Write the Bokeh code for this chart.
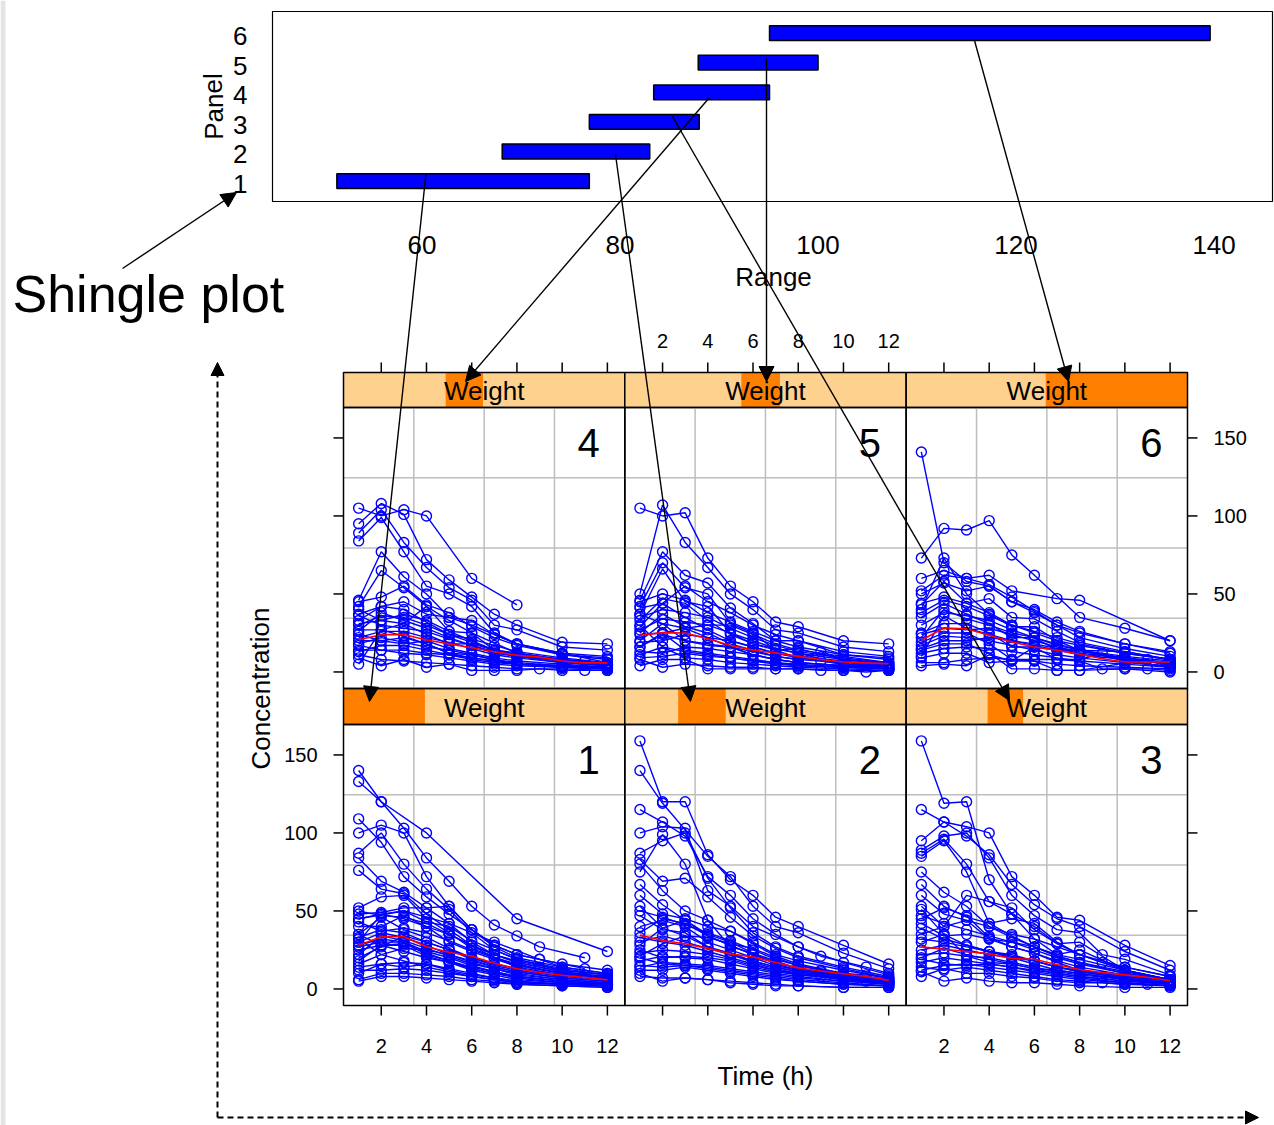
from bokeh.plotting import figure
from bokeh.models import Range1d, Arrow, NormalHead
from bokeh.embed import file_html
from bokeh.resources import INLINE
from bokeh.core.properties import value

# ---------------- data ----------------
PANELS = [1, 2, 3, 4, 5, 6]
SHINGLE_LO = [51.4, 68.1, 76.9, 83.4, 87.9, 95.1]
SHINGLE_HI = [76.9, 83.0, 88.0, 95.1, 100.0, 139.6]
WEIGHT_RANGE = [51.4, 139.5]
RANGE_TICKS = [60, 80, 100, 120, 140]
TIME_TICKS = [2, 4, 6, 8, 10, 12]
CONC_TICKS = [0, 50, 100, 150]
STRIP_LABEL = "Weight"
SMOOTH_TIMES = [1, 2, 3, 4, 5, 6, 7, 8, 9, 10, 11, 12]

P1_CURVES = [
    [(1,140),(2,120),(4,100),(8,45),(12,24)],
    [(1,133),(2,120),(3,103),(4,84),(5,69),(6,53),(7,41),(8,34),(9,27),(11,20)],
    [(1,109),(2,94),(3,72),(4,59),(5,48),(6,38),(7,28),(8,22),(10,16),(12,12)],
    [(1,100),(2,105),(3,100),(4,72),(5,53),(6,38),(7,27),(8,20),(10,14),(12,10)],
    [(1,87),(2,100),(3,80),(4,64),(5,51),(6,36),(7,25),(8,19),(10,13),(12,9)],
    [(1,84),(2,69),(3,62),(4,52),(5,42),(6,30),(7,22),(8,17),(10,11),(12,8)],
    [(1,76),(2,64),(3,61),(4,48),(5,38),(6,28),(7,20),(8,14),(10,9),(12,6)],
    [(1,52),(2,59),(3,60),(4,45),(5,36),(6,26),(8,15),(10,10),(12,7)],
    [(1,48),(2,49),(3,52),(4,52),(5,53),(6,38),(7,28),(8,22),(9,19),(10,14),(12,10)],
    [(1,45),(2,48),(3,50),(4,43),(5,40),(6,31),(7,25),(8,19),(10,12),(12,9)],
    [(1,40),(2,40),(3,47),(4,40),(5,30),(6,24),(7,19),(8,15),(10,10),(12,7)],
    [(1,35),(2,46),(3,38),(4,33),(5,26),(6,20),(7,15),(8,12),(10,8),(12,6)],
    [(1,33),(2,38),(3,36),(4,30),(5,25),(6,19),(7,14),(8,11),(10,7),(12,5)],
    [(1,30),(2,36),(3,33),(4,28),(5,22),(6,17),(7,13),(8,9),(10,6),(12,4)],
    [(1,27),(2,30),(3,30),(4,24),(5,20),(6,15),(7,11),(8,8),(10,5),(12,3)],
    [(1,25),(2,28),(3,29),(4,23),(5,18),(6,13),(7,10),(8,7),(10,4),(12,3)],
    [(1,22),(2,34),(3,31),(4,26),(5,21),(6,16),(8,10),(10,6),(12,4)],
    [(1,18),(2,28),(3,28),(4,21),(5,17),(6,12),(7,9),(8,6),(10,4),(12,2)],
    [(1,14),(2,16),(3,17),(4,16),(5,13),(6,10),(7,7),(8,5),(10,3),(12,2)],
    [(1,12),(2,12),(3,13),(4,12),(5,10),(6,8),(7,6),(8,4),(10,3),(12,2)],
    [(1,6),(2,10),(3,10),(4,9),(5,8),(6,6),(7,5),(8,3),(10,2),(12,1)],
    [(1,5),(2,8),(3,8),(4,7),(5,6),(6,5),(7,4),(8,3),(10,2),(12,1)],
    [(1,30),(2,48),(3,45),(4,40),(5,35),(6,28),(7,22),(8,17),(9,14),(10,11),(11,9),(12,7)],
    [(1,45),(3,50),(5,42),(7,30),(9,19),(11,13)],
    [(1,20),(2,27),(3,34),(4,30),(5,25),(6,20),(7,16),(8,13),(10,9),(12,6)],
    [(1,32),(2,22),(3,18),(4,14),(5,11),(6,8),(7,6),(8,4),(12,2)],
    [(1,50),(2,47),(3,46),(4,42),(5,35),(6,28),(7,22),(8,18),(10,12),(12,9)],
    [(1,43),(2,37),(3,39),(4,36),(5,31),(6,25),(7,20),(8,16),(9,13),(10,10),(12,7)],
    [(1,28),(2,32),(3,30),(4,22),(5,18),(6,14),(7,11),(8,8),(10,5),(12,3)],
    [(1,16),(2,22),(3,26),(4,25),(5,22),(6,18),(7,14),(8,11),(10,7),(12,5)],
    [(1,35),(2,28),(3,24),(4,20),(5,17),(6,13),(7,10),(8,8),(10,5),(12,3)],
    [(1,10),(2,16),(3,14),(4,16),(5,12),(6,9),(7,7),(8,5),(10,3),(12,2)],
]
P2_CURVES = [
    [(1,159),(2,120),(3,120),(4,86),(5,70),(6,60),(7,46),(8,40),(10,28),(12,16)],
    [(1,140),(2,119),(4,85),(5,72),(6,53),(7,40),(8,36),(10,23),(12,13)],
    [(1,115),(2,107),(3,98),(4,72),(5,60),(6,45),(7,35),(8,27),(9,21),(11,14),(12,10)],
    [(1,100),(2,104),(3,103),(4,63),(5,53),(6,40),(8,27),(10,17),(12,9)],
    [(1,87),(2,95),(3,100),(4,71),(5,52),(6,36),(7,27),(8,21),(10,14),(12,8)],
    [(1,83),(2,69),(3,71),(4,59),(5,46),(6,34),(7,26),(8,20),(10,13),(12,7)],
    [(1,80),(2,63),(3,50),(4,44),(5,37),(6,29),(7,21),(8,16),(10,10),(12,6)],
    [(1,75),(2,99),(3,80),(4,44),(5,27),(6,23),(7,16),(8,12),(10,8),(12,5)],
    [(1,67),(2,54),(3,44),(4,34),(5,28),(6,22),(7,17),(8,13),(9,11),(10,9),(12,6)],
    [(1,60),(2,48),(3,45),(4,40),(5,37),(6,30),(7,22),(8,18),(10,12),(12,7)],
    [(1,53),(2,39),(3,34),(4,33),(5,29),(6,26),(7,20),(8,15),(9,12),(10,10),(11,9),(12,7)],
    [(1,47),(2,38),(3,36),(4,27),(5,22),(6,17),(7,13),(8,10),(10,7),(12,4)],
    [(1,28),(2,39),(3,44),(4,35),(5,30),(6,23),(7,18),(8,13),(10,9),(12,5)],
    [(1,21),(2,29),(3,34),(4,27),(5,23),(6,18),(7,14),(8,11),(10,7),(12,4)],
    [(1,18),(2,21),(3,20),(4,19),(5,16),(6,13),(7,10),(8,8),(10,5),(12,3)],
    [(1,15),(2,14),(3,15),(4,14),(5,12),(6,10),(7,8),(8,6),(10,4),(12,2)],
    [(1,12),(2,12),(3,14),(4,12),(5,10),(6,8),(7,6),(8,5),(10,3),(12,2)],
    [(1,8),(2,7),(3,7),(4,6),(5,5),(6,4),(7,3),(8,2),(10,1),(12,1)],
    [(1,10),(2,5),(3,7),(4,6),(5,4),(6,3),(7,2),(8,2),(10,1),(12,1)],
    [(1,33),(2,30),(3,28),(4,24),(5,20),(6,16),(7,12),(8,10),(10,6),(12,4)],
    [(1,25),(2,20),(3,21),(4,20),(5,18),(6,14),(7,11),(8,9),(9,8),(10,6),(11,5),(12,4)],
    [(1,40),(2,44),(3,40),(4,30),(5,25),(6,20),(7,15),(8,12),(10,8),(12,5)],
    [(1,20),(2,16),(3,15),(4,13),(5,11),(6,9),(7,7),(8,5),(10,3),(12,2)],
    [(1,30),(2,34),(3,30),(4,26),(5,22),(6,18),(7,14),(8,11),(10,7),(12,4)],
    [(1,23),(2,25),(3,24),(4,22),(5,19),(6,15),(7,12),(8,9),(10,6),(12,3)],
    [(1,14),(2,17),(3,16),(4,15),(5,13),(6,11),(7,9),(8,7),(10,5),(12,3)],
    [(1,50),(2,46),(3,41),(4,36),(5,31),(6,25),(7,19),(8,15),(10,10),(12,6)],
    [(1,36),(2,45),(3,42),(4,34),(5,28),(6,22),(7,17),(8,13),(10,8),(12,5)],
]
P3_CURVES = [
    [(1,159),(2,119),(3,120),(4,70),(5,48),(6,32),(8,22),(10,12),(12,6)],
    [(1,115),(2,107),(3,104),(4,100),(5,72),(6,60),(7,46),(8,44),(10,28),(12,15)],
    [(1,95),(2,107),(3,98),(4,86),(5,67),(6,54),(7,45),(8,40),(10,24),(12,12)],
    [(1,89),(2,98),(3,100),(4,84),(5,60),(6,47),(7,38),(8,36),(9,22),(10,19),(12,9)],
    [(1,87),(2,96),(3,80),(4,56),(5,48),(6,40),(7,29),(8,30),(10,12),(12,6)],
    [(1,85),(2,95),(3,75),(4,42),(5,34),(6,27),(7,22),(8,25),(10,12),(12,6)],
    [(1,75),(2,62),(3,53),(4,40),(5,35),(6,32),(7,22),(8,19),(10,12),(12,6)],
    [(1,67),(2,53),(3,46),(4,42),(5,45),(6,42),(7,30),(8,22),(9,17),(10,14),(12,8)],
    [(1,60),(2,48),(3,44),(4,32),(5,27),(6,23),(7,18),(8,14),(10,9),(12,5)],
    [(1,53),(2,40),(3,60),(4,56),(5,52),(6,38),(7,29),(8,22),(10,14),(12,8)],
    [(1,51),(2,35),(3,28),(4,24),(5,22),(6,18),(7,14),(8,11),(10,7),(12,4)],
    [(1,45),(2,52),(3,47),(4,33),(5,27),(6,23),(7,17),(8,12),(10,8),(12,5)],
    [(1,42),(2,34),(3,35),(4,32),(5,30),(6,27),(7,21),(8,17),(10,10),(12,6)],
    [(1,39),(2,32),(3,28),(4,24),(5,20),(6,16),(7,12),(8,10),(9,8),(10,7),(11,5),(12,4)],
    [(1,35),(2,40),(3,44),(4,40),(5,33),(6,27),(7,21),(8,17),(10,11),(12,6)],
    [(1,22),(2,23),(3,21),(4,20),(5,17),(6,14),(7,11),(8,9),(10,6),(12,3)],
    [(1,19),(2,16),(3,15),(4,16),(5,14),(6,12),(7,10),(8,8),(10,5),(12,3)],
    [(1,14),(2,12),(3,14),(4,12),(5,10),(6,8),(7,6),(8,5),(10,3),(12,2)],
    [(1,11),(2,5),(3,7),(4,5),(5,4),(6,4),(7,3),(8,2),(10,1),(12,1)],
    [(1,8),(2,13),(3,10),(4,10),(5,8),(6,7),(7,5),(8,4),(9,4),(10,3),(11,3),(12,2)],
    [(1,30),(2,35),(3,21),(4,17),(5,16),(6,13),(7,12),(8,10),(10,6),(12,4)],
    [(1,25),(2,28),(3,25),(4,22),(5,20),(6,18),(7,14),(8,12),(10,8),(12,5)],
    [(1,47),(2,42),(3,38),(4,34),(5,30),(6,25),(7,20),(8,16),(10,10),(12,6)],
    [(1,32),(2,30),(3,27),(4,24),(5,21),(6,18),(7,14),(8,11),(10,7),(12,4)],
    [(1,17),(2,20),(3,18),(4,16),(5,14),(6,11),(7,9),(8,7),(10,4),(12,2)],
    [(1,20),(2,26),(3,22),(4,19),(5,16),(6,13),(7,10),(8,8),(10,5),(12,3)],
    [(1,12),(2,15),(3,16),(4,14),(5,12),(6,10),(7,8),(8,6),(10,4),(12,2)],
]
P4_CURVES = [
    [(1,105),(2,100),(3,104),(4,100),(6,60),(8,43)],
    [(1,95),(2,108),(3,101),(4,72),(5,59),(6,48),(7,37),(8,30),(10,19),(12,18)],
    [(1,89),(2,104),(3,83),(4,67),(5,54),(6,46),(7,30),(8,27),(10,16),(12,14)],
    [(1,84),(2,99),(3,77),(4,55),(5,50),(6,42),(7,25),(8,18),(10,12),(12,10)],
    [(1,46),(2,77),(3,61),(4,50),(5,35),(6,33),(7,24),(8,18),(10,11),(12,9)],
    [(1,42),(2,65),(3,54),(4,42),(5,26),(6,25),(8,12),(10,8),(12,5)],
    [(1,37),(2,42),(3,45),(4,37),(5,35),(6,30),(8,18),(10,12),(12,6)],
    [(1,31),(2,33),(3,37),(4,33),(5,26),(6,20),(7,14),(8,12),(10,7),(12,5)],
    [(1,27),(2,27),(3,31),(4,24),(5,18),(6,18),(7,14),(8,11),(10,7),(12,5)],
    [(1,20),(2,20),(3,22),(4,18),(5,12),(6,11),(7,8),(8,5),(10,4),(12,3)],
    [(1,14),(2,14),(3,14),(4,12),(5,11),(6,8),(7,6),(8,5),(10,3),(12,2)],
    [(1,9),(2,4),(3,8),(4,3),(5,5),(6,1),(7,1),(8,1),(9,2),(10,1),(11,1),(12,1)],
    [(1,5),(2,27),(3,23),(4,18),(5,12),(6,9),(7,7),(8,5),(10,4),(12,2)],
    [(1,40),(2,33),(3,31),(4,42),(5,33),(6,25),(7,14),(8,12),(10,8),(11,7),(12,5)],
    [(1,24),(2,20),(3,18),(4,20),(5,15),(6,12),(7,9),(8,7),(10,5),(12,3)],
    [(1,33),(2,42),(3,40),(4,32),(5,24),(6,19),(7,14),(8,11),(10,7),(12,4)],
    [(1,17),(2,14),(3,12),(4,11),(5,9),(6,7),(7,5),(8,4),(10,3),(12,2)],
    [(1,11),(2,8),(3,7),(4,6),(5,5),(6,4),(7,3),(8,2),(10,2),(12,1)],
    [(1,45),(2,48),(3,55),(4,43),(5,38),(6,29),(7,22),(8,17),(10,11),(12,8)],
    [(1,30),(2,36),(3,35),(4,30),(5,24),(6,21),(7,17),(8,13),(10,9),(12,6)],
    [(1,22),(2,26),(3,26),(4,22),(5,19),(6,15),(7,11),(8,9),(10,6),(12,4)],
    [(1,36),(2,30),(3,28),(4,26),(5,21),(6,17),(7,12),(8,10),(10,6),(12,4)],
    [(1,18),(2,22),(3,19),(4,16),(5,14),(6,11),(7,8),(8,6),(10,4),(12,3)],
    [(1,26),(2,38),(3,33),(4,28),(5,22),(6,17),(7,13),(8,10),(10,7),(12,5)],
    [(1,13),(2,17),(3,17),(4,14),(5,11),(6,9),(7,7),(8,5),(10,3),(12,2)],
]
P5_CURVES = [
    [(1,105),(2,100),(3,102),(4,73),(5,55),(6,45),(7,32),(8,29),(10,20),(12,18)],
    [(1,50),(2,107),(3,83),(4,67),(5,50),(6,40),(7,27),(8,25),(10,16),(12,13)],
    [(1,46),(2,77),(3,62),(4,57),(5,41),(6,31),(7,20),(8,20),(10,11),(12,9)],
    [(1,42),(2,70),(3,54),(4,50),(5,31),(6,25),(7,14),(8,15),(10,8),(12,6)],
    [(1,37),(2,66),(3,45),(4,42),(5,25),(6,18),(8,12),(10,5),(12,4)],
    [(1,33),(2,47),(3,44),(4,33),(5,24),(6,18),(7,14),(8,9),(10,5),(12,3)],
    [(1,29),(2,44),(3,35),(4,27),(5,20),(6,16),(7,12),(8,9),(10,6),(12,4)],
    [(1,25),(2,37),(3,29),(4,25),(5,18),(6,14),(7,10),(8,8),(9,7),(10,5),(12,3)],
    [(1,20),(2,31),(3,20),(4,18),(5,16),(6,11),(7,8),(8,6),(10,4),(12,2)],
    [(1,16),(2,25),(3,14),(4,12),(5,10),(6,8),(7,6),(8,4),(10,3),(12,2)],
    [(1,11),(2,16),(3,9),(4,8),(5,6),(6,5),(7,4),(8,3),(10,2),(12,1)],
    [(1,4),(2,8),(3,8),(4,2),(5,2),(6,2),(7,2),(8,2),(9,1),(10,1),(11,0),(12,1)],
    [(1,8),(2,3),(3,5),(4,4),(5,3),(6,3),(7,2),(8,2),(10,1),(12,1)],
    [(1,41),(2,44),(3,55),(4,45),(5,38),(6,30),(7,24),(8,20),(10,13),(12,10)],
    [(1,24),(2,25),(3,28),(4,30),(5,30),(6,24),(7,18),(8,14),(10,10),(12,6)],
    [(1,30),(2,16),(3,13),(4,11),(5,9),(6,7),(7,5),(8,4),(10,3),(12,2)],
    [(1,37),(2,31),(3,28),(4,22),(5,16),(6,11),(7,8),(8,6),(10,4),(12,3)],
    [(1,16),(2,24),(3,20),(4,17),(5,16),(6,13),(7,10),(8,8),(9,13),(10,8),(12,5)],
    [(1,45),(2,50),(3,46),(4,38),(5,32),(6,26),(7,20),(8,16),(10,11),(12,8)],
    [(1,35),(2,40),(3,38),(4,35),(5,28),(6,22),(7,17),(8,13),(10,9),(12,6)],
    [(1,27),(2,34),(3,32),(4,30),(5,25),(6,20),(7,15),(8,12),(10,8),(12,5)],
    [(1,19),(2,20),(3,24),(4,22),(5,20),(6,16),(7,12),(8,10),(10,7),(12,4)],
    [(1,13),(2,12),(3,16),(4,15),(5,13),(6,11),(7,8),(8,6),(10,4),(12,2)],
    [(1,9),(2,10),(3,12),(4,10),(5,9),(6,7),(7,6),(8,5),(10,3),(12,2)],
]
P6_CURVES = [
    [(1,141),(2,70),(3,58),(4,55),(5,45),(6,38),(7,30),(8,25),(10,18),(12,13)],
    [(1,73),(2,92),(3,91),(4,97),(5,75),(6,62),(8,35),(10,28),(12,20)],
    [(1,60),(2,65),(3,60),(4,62),(5,52),(7,47),(8,46),(12,20)],
    [(1,50),(2,57),(3,52),(4,55),(5,45),(6,40),(7,32),(8,26),(10,18),(12,12)],
    [(1,44),(2,48),(3,44),(4,47),(5,35),(6,34),(7,26),(8,19),(10,13),(12,8)],
    [(1,40),(2,73),(3,50),(4,37),(5,29),(6,29),(7,20),(8,14),(10,8),(12,5)],
    [(1,35),(2,44),(3,37),(4,31),(5,22),(6,22),(7,14),(8,14),(10,7),(12,3)],
    [(1,25),(2,31),(3,31),(4,25),(5,16),(6,16),(7,8),(8,8),(9,12),(10,7),(12,3)],
    [(1,19),(2,25),(3,25),(4,18),(5,8),(6,8),(7,8),(8,7),(9,2),(10,2),(11,2),(12,1)],
    [(1,14),(2,18),(3,18),(4,12),(5,2),(6,2),(7,1),(8,1),(10,2),(12,0)],
    [(1,9),(2,12),(3,12),(4,6),(5,7),(6,7),(7,1),(8,1),(11,8),(12,3)],
    [(1,4),(2,5),(3,4),(4,11),(5,7),(6,16),(7,14),(8,14),(10,13),(12,8)],
    [(1,43),(2,58),(3,44),(4,38),(5,30),(6,25),(7,20),(8,17),(10,12),(12,8)],
    [(1,22),(2,40),(3,34),(4,30),(5,25),(6,22),(7,18),(8,14),(10,10),(12,7)],
    [(1,10),(2,36),(3,28),(4,24),(5,20),(6,17),(7,14),(8,11),(10,8),(12,5)],
    [(1,52),(2,62),(3,60),(4,56),(5,48),(6,39),(7,30),(8,22),(10,15),(12,10)],
    [(1,15),(2,20),(3,20),(4,22),(5,20),(6,18),(7,15),(8,12),(10,9),(12,6)],
    [(1,6),(2,6),(3,8),(4,9),(5,8),(6,7),(7,5),(8,4),(10,3),(12,2)],
    [(1,38),(2,46),(3,42),(4,36),(5,30),(6,26),(7,22),(8,18),(10,12),(12,8)],
    [(1,30),(2,38),(3,36),(4,33),(5,27),(6,22),(7,17),(8,14),(10,9),(12,6)],
    [(1,24),(2,28),(3,27),(4,28),(5,24),(6,20),(7,16),(8,13),(10,9),(12,5)],
    [(1,17),(2,23),(3,22),(4,20),(5,17),(6,14),(7,11),(8,9),(10,6),(12,4)],
    [(1,12),(2,15),(3,16),(4,15),(5,13),(6,11),(7,9),(8,7),(10,5),(12,3)],
]
P1_SMOOTH = [28, 33.5, 33.5, 27, 23.5, 21, 16.5, 13, 10.5, 8.8, 7.3, 5.8]
P2_SMOOTH = [34.5, 31, 29, 26, 22.5, 20.5, 17, 13.5, 11.5, 9.8, 8, 5.5]
P3_SMOOTH = [27, 25.5, 24, 22.5, 19.5, 19, 15.5, 12.5, 10.5, 9, 7.5, 5.3]
P4_SMOOTH = [20.7, 23.9, 24, 20.5, 18, 15.5, 13, 10.7, 9.5, 7, 5.8, 5.8]
P5_SMOOTH = [23.5, 25.2, 25, 21.3, 17, 14, 12.2, 10, 8, 6.4, 5.8, 5.3]
P6_SMOOTH = [20.3, 28.2, 27.7, 23.5, 19.2, 16, 13.9, 11.3, 8.5, 6.4, 6.4, 6.4]

CURVES = [P1_CURVES, P2_CURVES, P3_CURVES, P4_CURVES, P5_CURVES, P6_CURVES]
SMOOTHS = [P1_SMOOTH, P2_SMOOTH, P3_SMOOTH, P4_SMOOTH, P5_SMOOTH, P6_SMOOTH]

# ---------------- layout (pixels from top-left) ----------------
W, H = 1274, 1125
FONT = value("Liberation Sans")
BLUE = "#0000FF"
DARK_OR = "#FF7F00"
LIGHT_OR = "#FFD18F"
GRID = "#BEBEBE"

def PY(py):
    return H - py

def xr(lim, a, b):
    k = (lim[1] - lim[0]) / (b - a)
    s = lim[0] - k * a
    return Range1d(s, s + k * W)

def yr(lim, top, bot):
    k = (lim[1] - lim[0]) / (bot - top)
    return Range1d(lim[1] - k * (H - top), lim[1] + k * top)

XLIM = (0.33, 12.77)
YLIM = (-10.6, 169.5)
COL_L = [343, 624.3, 905.7]
PW = 281.3
# row 0 = lower (panels 1-3), row 1 = upper (panels 4-6)
ROW_STRIP_TOP = [688, 372]
ROW_PLOT_TOP = [724, 407]
ROW_PLOT_BOT = [1005, 688]

SX_LIM = (44.9, 145.9)
SY_LIM = (0.31, 6.73)
SBOX = (272, 11, 1272, 201)  # left, top, right, bottom

p = figure(width=W, height=H, x_range=Range1d(0, W), y_range=Range1d(0, H),
           output_backend="svg", toolbar_location=None,
           x_axis_location=None, y_axis_location=None, min_border=0,
           outline_line_color=None, background_fill_color="white",
           border_fill_color="white")
p.grid.visible = False

for c, L in enumerate(COL_L):
    p.extra_x_ranges[f"t{c}"] = xr(XLIM, L, L + PW)
    p.extra_x_ranges[f"w{c}"] = xr(WEIGHT_RANGE, L, L + PW)
for r in range(2):
    p.extra_y_ranges[f"c{r}"] = yr(YLIM, ROW_PLOT_TOP[r], ROW_PLOT_BOT[r])
p.extra_x_ranges["sx"] = xr(SX_LIM, SBOX[0], SBOX[2])
p.extra_y_ranges["sy"] = yr(SY_LIM, SBOX[1], SBOX[3])

# left-edge gray band
p.quad(left=0, right=5, bottom=0, top=H, fill_color="#E4E4E4", line_color=None)

# ---------------- shingle plot ----------------
p.quad(left=SBOX[0], right=SBOX[2], top=PY(SBOX[1]), bottom=PY(SBOX[3]),
       fill_color=None, line_color="black", line_width=1.2)
p.quad(left=SHINGLE_LO, right=SHINGLE_HI,
       bottom=[i - 0.25 for i in PANELS], top=[i + 0.25 for i in PANELS],
       x_range_name="sx", y_range_name="sy",
       fill_color=BLUE, line_color="black", line_width=1.5)
p.text(x=[247] * len(PANELS), y=PANELS, text=[str(i) for i in PANELS],
       y_range_name="sy", text_font=FONT, text_font_size="26px", y_offset=3,
       text_align="right", text_baseline="middle", text_color="black")
p.text(x=RANGE_TICKS, y=[PY(244)] * len(RANGE_TICKS), text=[str(v) for v in RANGE_TICKS],
       x_range_name="sx", text_font=FONT, text_font_size="26px",
       text_align="center", text_baseline="middle", text_color="black")
p.text(x=[773], y=[PY(276)], text=["Range"], text_font=FONT, text_font_size="26px",
       text_align="center", text_baseline="middle", text_color="black")
p.text(x=[213], y=[PY(106)], text=["Panel"], angle=1.5708, text_font=FONT,
       text_font_size="26px", text_align="center", text_baseline="middle",
       text_color="black")

# ---------------- panels ----------------
for k in PANELS:
    idx = k - 1
    c = idx % 3
    r = 0 if k <= 3 else 1
    L = COL_L[c]
    st, pt, pb = ROW_STRIP_TOP[r], ROW_PLOT_TOP[r], ROW_PLOT_BOT[r]
    xn, yn, wn = f"t{c}", f"c{r}", f"w{c}"

    # strip
    p.quad(left=[WEIGHT_RANGE[0]], right=[WEIGHT_RANGE[1]], top=[PY(st)], bottom=[PY(pt)],
           x_range_name=wn, fill_color=LIGHT_OR, line_color=None)
    p.quad(left=[SHINGLE_LO[idx]], right=[SHINGLE_HI[idx]], top=[PY(st)], bottom=[PY(pt)],
           x_range_name=wn, fill_color=DARK_OR, line_color=None)
    p.quad(left=[L], right=[L + PW], top=[PY(st)], bottom=[PY(pt)],
           fill_color=None, line_color="black", line_width=1.5)
    p.text(x=[L + PW / 2], y=[PY((st + pt) / 2 + 1)], text=[STRIP_LABEL], text_font=FONT,
           text_font_size="26px", text_align="center", text_baseline="middle",
           text_color="black")

    # grid lines at quarters
    gx = [XLIM[0] + (XLIM[1] - XLIM[0]) * q for q in (0.25, 0.5, 0.75)]
    gy = [YLIM[0] + (YLIM[1] - YLIM[0]) * q for q in (0.25, 0.5, 0.75)]
    p.segment(x0=gx, x1=gx, y0=[YLIM[0]] * 3, y1=[YLIM[1]] * 3,
              x_range_name=xn, y_range_name=yn, line_color=GRID, line_width=1.5)
    p.segment(x0=[XLIM[0]] * 3, x1=[XLIM[1]] * 3, y0=gy, y1=gy,
              x_range_name=xn, y_range_name=yn, line_color=GRID, line_width=1.5)

    # subject curves
    curves = CURVES[idx]
    xs = [[t for t, v in cv] for cv in curves]
    ys = [[v for t, v in cv] for cv in curves]
    p.multi_line(xs=xs, ys=ys, x_range_name=xn, y_range_name=yn,
                 line_color=BLUE, line_width=1.4)
    p.scatter(x=[t for cv in curves for t, v in cv], y=[v for cv in curves for t, v in cv],
              x_range_name=xn, y_range_name=yn, marker="circle", size=10,
              fill_color=None, line_color=BLUE, line_width=1.4)
    # smoother
    p.line(x=SMOOTH_TIMES, y=SMOOTHS[idx], x_range_name=xn, y_range_name=yn,
           line_color="#FF0000", line_width=1.6)

    # panel border
    p.quad(left=[L], right=[L + PW], top=[PY(pt)], bottom=[PY(pb)],
           fill_color=None, line_color="black", line_width=1.5)
    # panel number
    p.text(x=[L + PW - 25], y=[PY(pt + 35)], text=[str(k)], text_font=FONT,
           text_font_size="40px", text_align="right", text_baseline="middle",
           text_color="black")

    # ticks: top (upper row) / bottom (lower row)
    if r == 1:
        p.segment(x0=TIME_TICKS, x1=TIME_TICKS, y0=[PY(st)] * 6, y1=[PY(st - 10)] * 6,
                  x_range_name=xn, line_color="black", line_width=1.5)
        if k == 5:
            p.text(x=TIME_TICKS, y=[PY(340)] * 6, text=[str(t) for t in TIME_TICKS],
                   x_range_name=xn, text_font=FONT, text_font_size="20px",
                   text_align="center", text_baseline="middle", text_color="black")
    else:
        p.segment(x0=TIME_TICKS, x1=TIME_TICKS, y0=[PY(pb)] * 6, y1=[PY(pb + 10)] * 6,
                  x_range_name=xn, line_color="black", line_width=1.5)
        if k in (1, 3):
            p.text(x=TIME_TICKS, y=[PY(1045)] * 6, text=[str(t) for t in TIME_TICKS],
                   x_range_name=xn, text_font=FONT, text_font_size="20px",
                   text_align="center", text_baseline="middle", text_color="black")
    # ticks: left / right
    if c == 0:
        p.segment(x0=[L - 10] * 4, x1=[L] * 4, y0=CONC_TICKS, y1=CONC_TICKS,
                  y_range_name=yn, line_color="black", line_width=1.5)
        if k == 1:
            p.text(x=[L - 26] * 4, y=CONC_TICKS, text=[str(v) for v in CONC_TICKS],
                   y_range_name=yn, text_font=FONT, text_font_size="20px",
                   text_align="right", text_baseline="middle", text_color="black")
    if c == 2:
        R = L + PW
        p.segment(x0=[R] * 4, x1=[R + 10] * 4, y0=CONC_TICKS, y1=CONC_TICKS,
                  y_range_name=yn, line_color="black", line_width=1.5)
        if k == 6:
            p.text(x=[R + 26] * 4, y=CONC_TICKS, text=[str(v) for v in CONC_TICKS],
                   y_range_name=yn, text_font=FONT, text_font_size="20px",
                   text_align="left", text_baseline="middle", text_color="black")

# axis titles
p.text(x=[765], y=[PY(1075)], text=["Time (h)"], text_font=FONT, text_font_size="26px",
       text_align="center", text_baseline="middle", text_color="black")
p.text(x=[260], y=[PY(688)], text=["Concentration"], angle=1.5708, text_font=FONT,
       text_font_size="26px", text_align="center", text_baseline="middle",
       text_color="black")

# ---------------- annotations ----------------
ARROWS = [
    (425.5, 173, 369, 701),
    (615, 154, 690, 701),
    (672, 116, 1009, 700),
    (709, 97, 465, 381),
    (766, 58, 766, 381),
    (974, 40, 1068, 381),
    (122, 268, 236, 192),
]
for x0, y0, x1, y1 in ARROWS:
    p.add_layout(Arrow(end=NormalHead(size=15, fill_color="black", line_color="black",
                                      line_width=1),
                       x_start=x0, y_start=PY(y0), x_end=x1, y_end=PY(y1),
                       line_color="black", line_width=1.4))

p.text(x=[12], y=[PY(293)], text=["Shingle plot"], text_font=FONT,
       text_font_size="52px", text_align="left", text_baseline="middle",
       text_color="black")

# dashed frame arrows
p.add_layout(Arrow(end=NormalHead(size=13, fill_color="black", line_color="black",
                                  line_width=1),
                   x_start=217, y_start=PY(1117), x_end=217, y_end=PY(362),
                   line_color="black", line_width=2, line_dash="6 4"))
p.add_layout(Arrow(end=NormalHead(size=13, fill_color="black", line_color="black",
                                  line_width=1),
                   x_start=217, y_start=PY(1117), x_end=1258, y_end=PY(1117),
                   line_color="black", line_width=2, line_dash="6 4"))

open("out.html", "w").write(file_html(p, INLINE))
